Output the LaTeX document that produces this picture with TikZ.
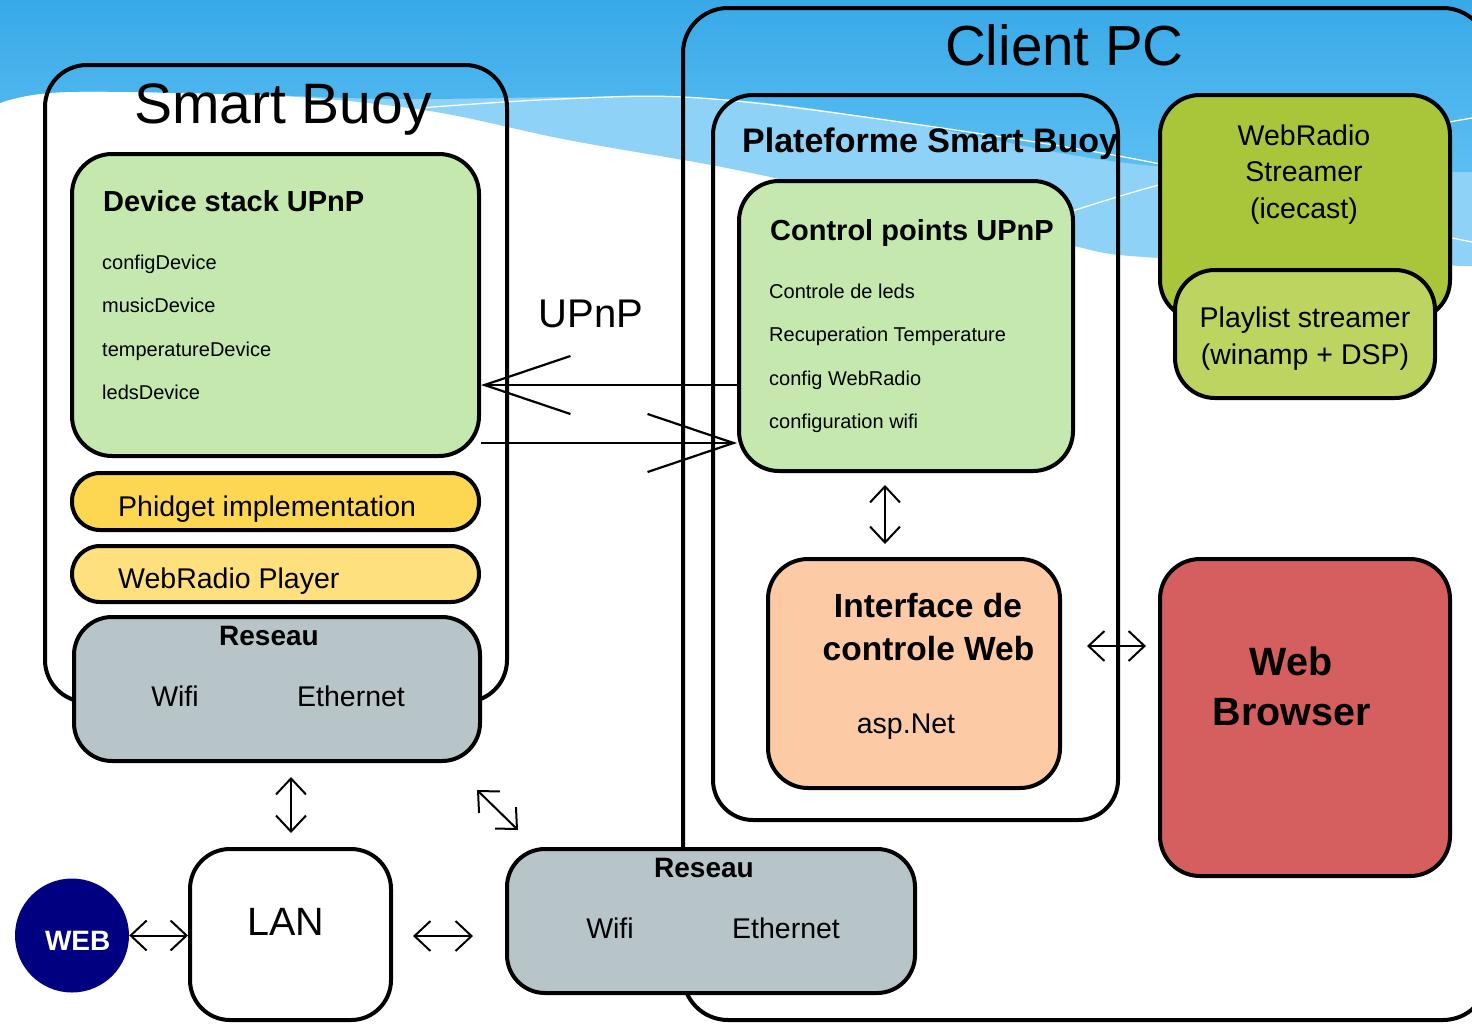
\documentclass[tikz,border=0pt]{standalone}
\usepackage{fontspec}
\setmainfont{Liberation Sans}
\usetikzlibrary{arrows.meta}
\newcommand\fsz[1]{\fontsize{#1pt}{#1pt}\selectfont}
\definecolor{skyA}{HTML}{38A9E8}
\definecolor{skyB}{HTML}{5CBFF2}
\definecolor{band}{HTML}{8ED2F7}
\definecolor{devgreen}{HTML}{C5E8AF}
\definecolor{phidyel}{HTML}{FDD752}
\definecolor{wrpyel}{HTML}{FEE07F}
\definecolor{netgrey}{HTML}{B7C4C8}
\definecolor{peach}{HTML}{FDCAA6}
\definecolor{olive}{HTML}{A9C63A}
\definecolor{olivelt}{HTML}{BDD461}
\definecolor{brred}{HTML}{D45F5E}
\definecolor{navy}{HTML}{000080}
\tikzset{
  box/.style={draw=black, line width=4pt, rounded corners=40pt, inner sep=0pt},
  txt/.style={inner sep=0pt, anchor=base west},
  ctxt/.style={inner sep=0pt, anchor=base},
  dbl/.style={line width=2pt, {Straight Barb[length=16pt,width=30pt]}-{Straight Barb[length=16pt,width=30pt]}},
  bigl/.style={line width=2.2pt, {Straight Barb[length=86pt,width=58pt]}-},
  bigr/.style={line width=2.2pt, -{Straight Barb[length=86pt,width=58pt]}},
  wline/.style={draw=white, line width=1.3pt}
}
\begin{document}
\begin{tikzpicture}[x=1pt,y=-1pt]
\useasboundingbox (0,0) rectangle (1472,1023);
\fill[white] (0,0) rectangle (1472,1023);
% background swoosh
\fill[band] (0,0) -- plot[smooth, tension=0.6] coordinates {(0,103) (66,92) (263,95) (423,110) (568,140) (737,170) (900,207) (1060,243) (1160,258) (1472,266)} -- (1472,0) -- cycle;
\shade[top color=skyA, bottom color=skyB] (0,0) -- plot[smooth, tension=0.6] coordinates {(0,103) (66,92) (263,95) (404,99) (700,98) (900,122) (1155,166) (1472,172)} -- (1472,0) -- cycle;
\draw[wline] plot[smooth, tension=0.6] coordinates {(420,108) (560,99) (700,98) (900,122) (1155,163) (1300,205) (1472,242)};
\draw[wline] plot[smooth, tension=0.6] coordinates {(1060,215) (1155,186) (1300,150) (1472,118)};

% outer containers
\node[box, rounded corners=45pt, minimum width=805pt, minimum height=1012pt] (cpc) at (1085.5,514) {};
\node[box, rounded corners=42pt, minimum width=462pt, minimum height=637pt] (sb) at (276,383.5) {};
\node[box, minimum width=405pt, minimum height=725pt] (plat) at (915.5,457.5) {};

% inner boxes
\node[box, fill=devgreen, minimum width=407pt, minimum height=302pt] (dev) at (275.5,305) {};
\node[box, fill=phidyel, rounded corners=28pt, minimum width=407pt, minimum height=57pt] (phid) at (275.5,501.5) {};
\node[box, fill=wrpyel, rounded corners=28pt, minimum width=407pt, minimum height=56pt] (wrp) at (275.5,574) {};
\node[box, fill=netgrey, rounded corners=38pt, minimum width=406pt, minimum height=144pt] (resA) at (277,689) {};
\node[box, fill=devgreen, minimum width=334pt, minimum height=290pt] (cp) at (906,326) {};
\node[box, fill=peach, minimum width=292pt, minimum height=229pt] (intf) at (914,673.5) {};
\node[box, fill=olive, minimum width=290pt, minimum height=225pt] (wrs) at (1305,207.5) {};
\node[box, fill=olivelt, minimum width=260pt, minimum height=128pt] (pls) at (1305,334) {};
\node[box, fill=brred, minimum width=290pt, minimum height=317pt] (wb) at (1305,717.5) {};
\node[box, fill=white, minimum width=201pt, minimum height=171pt] (lan) at (290.5,934.5) {};
\node[box, fill=netgrey, rounded corners=38pt, minimum width=408pt, minimum height=144pt] (resB) at (711,921) {};
\node[circle, fill=navy, minimum size=114pt, inner sep=0pt] (web) at (72,935.5) {};

% texts
\node[ctxt, font=\fsz{57}] (sbT) at (283,123) {Smart Buoy};
\node[ctxt, font=\fsz{56.5}] (cpcT) at (1064.5,65) {Client PC};
\node[txt, font=\fsz{34}\bfseries] (platT) at (742,152) {Plateforme Smart Buoy};

\node[txt, font=\fsz{29}\bfseries] (devT) at (103,211) {Device stack UPnP};
\node[txt, font=\fsz{20}] (dev1) at (102,269) {configDevice};
\node[txt, font=\fsz{20}] (dev2) at (102,312.5) {musicDevice};
\node[txt, font=\fsz{20}] (dev3) at (102,356) {temperatureDevice};
\node[txt, font=\fsz{20}] (dev4) at (102,399) {ledsDevice};

\node[txt, font=\fsz{29}\bfseries] (cpT) at (770,240) {Control points UPnP};
\node[txt, font=\fsz{20}] (cp1) at (769,298) {Controle de leds};
\node[txt, font=\fsz{20}] (cp2) at (769,341.5) {Recuperation Temperature};
\node[txt, font=\fsz{20}] (cp3) at (769,385) {config WebRadio};
\node[txt, font=\fsz{20}] (cp4) at (769,428) {configuration wifi};

\node[txt, font=\fsz{28.5}] (phidT) at (118,516) {Phidget implementation};
\node[txt, font=\fsz{28.5}] (wrpT) at (118,588) {WebRadio Player};

\node[ctxt, font=\fsz{28}\bfseries] (resAT) at (269,645) {Reseau};
\node[ctxt, font=\fsz{28.5}] (resA1) at (175,706) {Wifi};
\node[ctxt, font=\fsz{28.5}] (resA2) at (351,706) {Ethernet};

\node[ctxt, font=\fsz{40}] (upnp) at (591,327) {UPnP};

\node[ctxt, font=\fsz{33.5}\bfseries] (intf1) at (928,617) {Interface de};
\node[ctxt, font=\fsz{33.5}\bfseries] (intf2) at (928.5,660) {controle Web};
\node[ctxt, font=\fsz{28.5}] (intf3) at (906,733) {asp.Net};

\node[ctxt, font=\fsz{28.5}] (wrs1) at (1304,145) {WebRadio};
\node[ctxt, font=\fsz{28.5}] (wrs2) at (1304,181.5) {Streamer};
\node[ctxt, font=\fsz{28.5}] (wrs3) at (1304,218) {(icecast)};
\node[ctxt, font=\fsz{28.5}] (pls1) at (1305,327) {Playlist streamer};
\node[ctxt, font=\fsz{28.5}] (pls2) at (1305,364) {(winamp + DSP)};

\node[ctxt, font=\fsz{39.5}\bfseries] (wb1) at (1291,675) {Web};
\node[ctxt, font=\fsz{39.5}\bfseries] (wb2) at (1291.5,725) {Browser};

\node[ctxt, font=\fsz{39.5}] (lanT) at (286,935) {LAN};
\node[ctxt, font=\fsz{28}\bfseries, text=white] (webT) at (77.7,950) {WEB};

\node[ctxt, font=\fsz{28}\bfseries] (resBT) at (704,877) {Reseau};
\node[ctxt, font=\fsz{28.5}] (resB1) at (610,938) {Wifi};
\node[ctxt, font=\fsz{28.5}] (resB2) at (786,938) {Ethernet};

% connectors
\draw[bigl] (dev.east |- 0,385) -- (cp.west |- 0,385);
\draw[bigr] (dev.east |- 0,443) -- (cp.west |- 0,443);
\draw[dbl] ([xshift=-21pt,yshift=-12pt]cp.south) -- ([xshift=-29pt,yshift=13pt]intf.north);
\draw[dbl] ([xshift=25pt,yshift=27.5pt]intf.east) -- ([xshift=-12pt,yshift=71.5pt]wb.west);
\draw[dbl] ([xshift=14pt,yshift=-14pt]resA.south) -- ([xshift=0.5pt,yshift=14pt]lan.north);
\draw[dbl] ([xshift=-5pt,yshift=-27pt]resA.south east) -- ([xshift=13pt,yshift=17pt]resB.north west);
\draw[dbl] (web.east) -- (web.east -| lan.west);
\draw[dbl] ([xshift=20pt,yshift=-1.5pt]lan.east) -- ([xshift=-32pt,yshift=-15pt]resB.west);
\end{tikzpicture}
\end{document}
